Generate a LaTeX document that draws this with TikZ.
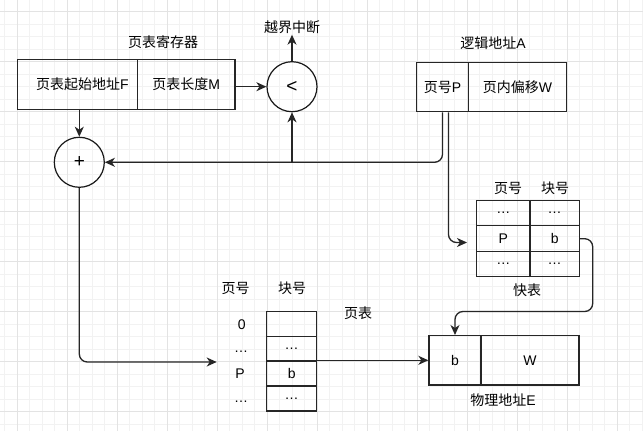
\documentclass[tikz,border=0pt]{standalone}
\usepackage{fontspec}
\setmainfont{Noto Sans CJK SC}
\newfontfamily\lat{Liberation Sans}
\usetikzlibrary{arrows.meta}
\newcommand\dfont{\fontsize{14}{16}\selectfont}
\newcommand\bigsym{\fontsize{19}{21}\selectfont\lat}
\begin{document}
\begin{tikzpicture}[x=1pt,y=-1pt,
  minorgrid/.style={draw=black!5, line width=0.9pt},
  majorgrid/.style={draw=black!11, line width=0.9pt},
  cell/.style={draw=black!85, line width=1.3pt, inner sep=0pt, font=\dfont, minimum height=50pt},
  circ/.style={draw=black!90, line width=1.2pt, circle, minimum size=50pt, inner sep=0pt, font=\dfont},
  lbl/.style={font=\dfont, inner sep=1pt},
  conn/.style={draw=black!85, line width=1.3pt, -{Stealth[length=10pt,width=9pt,inset=3pt]}},
  line/.style={draw=black!85, line width=1.3pt}]
\useasboundingbox (0,0) rectangle (643,431);
\fill[white] (0,0) rectangle (643,431);
% grid
\foreach \i in {0,...,51} {\pgfmathsetmacro\xx{4.8+12.5*\i}\draw[minorgrid] (\xx,0) -- (\xx,431);}
\foreach \i in {0,...,34} {\pgfmathsetmacro\yy{11.7+12.5*\i}\draw[minorgrid] (0,\yy) -- (643,\yy);}
\foreach \i in {0,...,12} {\pgfmathsetmacro\xx{17.3+50*\i}\draw[majorgrid] (\xx,0) -- (\xx,431);}
\foreach \i in {0,...,8} {\pgfmathsetmacro\yy{11.7+50*\i}\draw[majorgrid] (0,\yy) -- (643,\yy);}

% page table register
\node[cell, minimum width=120pt] (rf) at (77.3,84.3) {\hspace{10pt}页表起始地址{\lat F}};
\node[cell, minimum width=97.7pt] (rm) at (186.2,84.3) {页表长度{\lat M}};
\node[lbl] (rtitle) at (163,42) {页表寄存器};

% compare circle
\node[circ] (lt) at (292,86.7) {{\bigsym <}};
\node[lbl] (intr) at (292,27) {越界中断};

% plus circle
\node[circ] (plus) at (79.3,162.3) {{\bigsym +}};

% logical address
\node[cell, minimum width=51.6pt, minimum height=49.4pt] (la1) at (442.5,87) {页号{\lat P}};
\node[cell, minimum width=98.4pt, minimum height=49.4pt] (la2) at (517.5,87) {页内偏移{\lat W}};
\node[lbl] (latitle) at (493,43) {逻辑地址{\lat A}};

% quick table
\node[lbl] (qh1) at (508,188) {页号};
\node[lbl] (qh2) at (555,188) {块号};
\node[cell, minimum width=53.3pt, minimum height=25pt] (q11) at (503.3,213.2) {\lat …};
\node[cell, minimum width=49.3pt, minimum height=25pt] (q12) at (554.7,213.2) {\lat …};
\node[cell, minimum width=53.3pt, minimum height=26pt] (q21) at (503.3,238.7) {\lat P};
\node[cell, minimum width=49.3pt, minimum height=26pt] (q22) at (554.7,238.7) {\lat b};
\node[cell, minimum width=53.3pt, minimum height=25pt] (q31) at (503.3,264.2) {\lat …};
\node[cell, minimum width=49.3pt, minimum height=25pt] (q32) at (554.7,264.2) {\lat …};
\node[lbl] (qtitle) at (527,290) {快表};

% page table
\node[lbl] (th1) at (235.7,288) {页号};
\node[lbl] (th2) at (292,288) {块号};
\node[lbl] (ttitle) at (358,313) {页表};
\node[cell, minimum width=50pt, minimum height=25pt] (t1) at (291.7,324.2) {};
\node[cell, minimum width=50pt, minimum height=24.3pt] (t2) at (291.7,348.8) {\lat …};
\node[cell, minimum width=50pt, minimum height=25pt] (t3) at (291.7,373.5) {{\lat b}\hspace{10pt}};
\node[cell, minimum width=50pt, minimum height=25pt] (t4) at (291.7,398.5) {\lat …};
\node[lbl] (l0) at (241.7,325) {\lat 0};
\node[lbl] (l1) at (241,352) {\lat …};
\node[lbl] (l2) at (240,374) {\lat P};
\node[lbl] (l3) at (241,402) {\lat …};

% physical address
\node[cell, minimum width=52pt, minimum height=49.3pt] (p1) at (455,360.3) {\lat b};
\node[cell, minimum width=98pt, minimum height=49.3pt] (p2) at (530,360.3) {\lat W};
\node[lbl] (ptitle) at (503,400) {物理地址{\lat E}};

% connectors
\draw[conn] (rm.east |- lt.west) -- (lt.west);
\draw[conn] (lt.north) -- (intr.south);
\draw[conn] (plus.north |- rf.south) -- (plus.north);
\draw[conn, rounded corners=8pt] (la1.south) |- (plus.east);
\coordinate (j) at (lt.south |- plus.east);
\draw[conn] (j) -- (lt.south);
\coordinate (qin) at (467,242.5);
\draw[conn, rounded corners=8pt] ([xshift=6pt]la1.south) |- (qin);
\coordinate (turn) at (592.7,311.5);
\draw[conn, rounded corners=8pt] (q22.east) -| (turn) -| (p1.north);
\coordinate (tin) at (216.7,362);
\draw[conn, rounded corners=8pt] (plus.south) |- (tin);
\draw[conn] (t3.north east |- p1.west) -- (p1.west);
\end{tikzpicture}
\end{document}
